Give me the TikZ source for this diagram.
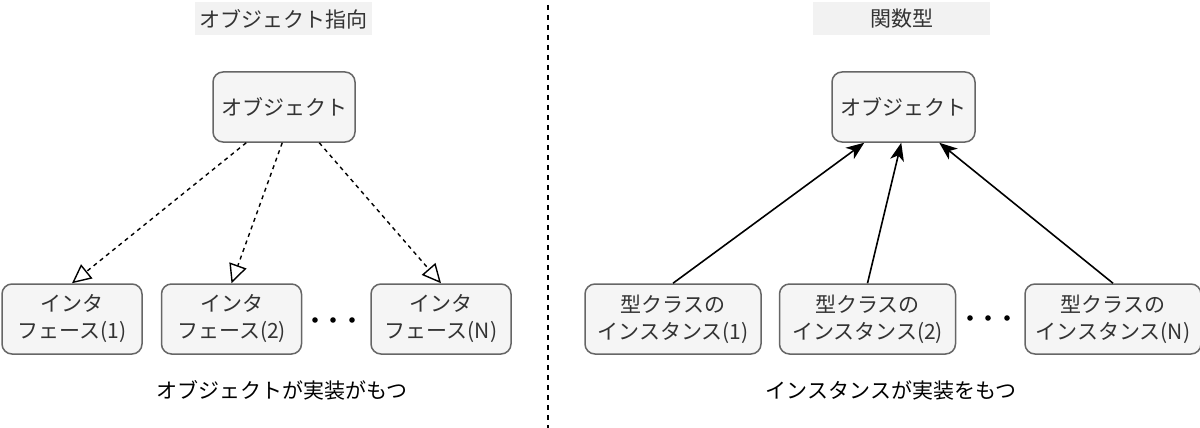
\documentclass[tikz,border=0pt]{standalone}
\usepackage{fontspec}
\setmainfont{Noto Sans CJK JP}
\usepackage{tikz}
\usetikzlibrary{positioning,arrows.meta}
\usepackage{xcolor}
\definecolor{boxfill}{HTML}{F5F5F5}
\definecolor{boxline}{HTML}{666666}
\definecolor{boxtext}{HTML}{333333}
\definecolor{titlebg}{HTML}{F2F2F2}

\begin{document}
\begin{tikzpicture}[
            x=1pt, y=-1pt,
            font=\fontsize{21pt}{27pt}\selectfont,
            box/.style={
                draw=boxline,
                fill=boxfill,
                text=boxtext,
                rounded corners=10pt,
                minimum width=140pt,
                minimum height=70pt,
                align=center,
                line width=1.5pt
            },
            wide/.style={box, minimum width=176pt},
            heading/.style={
                fill=titlebg,
                text=boxtext,
                minimum width=177pt,
                minimum height=33pt
            },
            realize/.style={dashed, dash pattern=on 4pt off 4pt, line width=1.4pt,
                -{Triangle[open, length=19pt, width=18pt, line width=1.4pt]}},
            arrow/.style={line width=1.6pt, -{Stealth[length=18pt, width=14pt, inset=5pt]}}
        ]
        \useasboundingbox (0,0) rectangle (1200,428);

        % オブジェクト指向
        \node[heading] (titleOO) at (283.5,19) {オブジェクト指向};
        \node[box, minimum width=142pt] (objL) at (284,107) {オブジェクト};
        \node[box] (if1) at (72,319) {インタ\\フェース(1)};
        \node[box, right=18pt of if1] (if2) {インタ\\フェース(2)};
        \node[box, right=68pt of if2] (ifN) {インタ\\フェース(N)};
        \node (noteL) at (282,390) {オブジェクトが実装がもつ};

        \foreach \x in {315,333,352}
            \fill (\x,320) circle (2.8pt);

        \draw[realize] ([xshift=34pt]objL.south west) -- (if1.north);
        \draw[realize] ([xshift=70pt]objL.south west) -- (if2.north);
        \draw[realize] ([xshift=107pt]objL.south west) -- (ifN.north);

        % 区切り
        \draw[line width=1.5pt, dash pattern=on 5pt off 5pt] (548,5) -- (548,428);

        % 関数型
        \node[heading] (titleFP) at (901.5,19) {関数型};
        \node[box, minimum width=143pt] (objR) at (903.5,107) {オブジェクト};
        \node[wide] (inst1) at (673,319) {型クラスの\\インスタンス(1)};
        \node[wide, right=17pt of inst1] (inst2) {型クラスの\\インスタンス(2)};
        \node[wide, right=68pt of inst2] (instN) {型クラスの\\インスタンス(N)};
        \node (noteR) at (891,390) {インスタンスが実装をもつ};

        \foreach \x in {970,988,1007}
            \fill (\x,318) circle (2.8pt);

        \draw[arrow] (inst1.north) -- ([xshift=33pt]objR.south west);
        \draw[arrow] (inst2.north) -- ([xshift=70pt]objR.south west);
        \draw[arrow] (instN.north) -- ([xshift=108pt]objR.south west);

        \end{tikzpicture}
\end{document}
